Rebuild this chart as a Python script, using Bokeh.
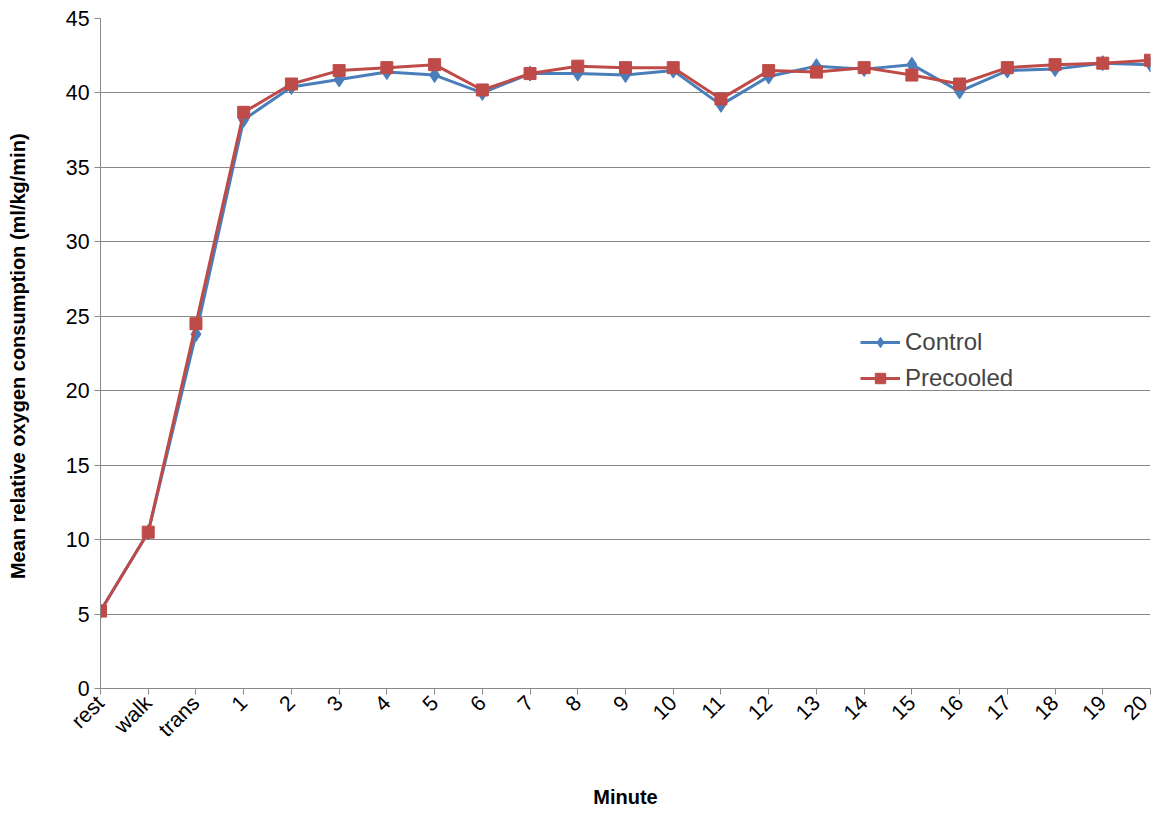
from bokeh.plotting import figure
from bokeh.embed import file_html
from bokeh.resources import INLINE
from bokeh.models import FixedTicker, Range1d, Legend, LegendItem
import math

labels = ["rest","walk","trans"] + [str(i) for i in range(1,21)]
control = [5.2,10.5,23.8,38.2,40.4,40.9,41.4,41.2,40.0,41.3,41.3,41.2,41.5,39.2,41.1,41.8,41.6,41.9,40.1,41.5,41.6,42.0,41.9]
precooled = [5.2,10.5,24.5,38.7,40.6,41.5,41.7,41.9,40.2,41.3,41.8,41.7,41.7,39.6,41.5,41.4,41.7,41.2,40.6,41.7,41.9,42.0,42.2]
xs = list(range(len(labels)))

p = figure(width=1152, height=810, output_backend="svg", toolbar_location=None,
           x_range=Range1d(0, len(labels)-1), y_range=Range1d(0, 45),
           min_border_left=100, min_border_top=18, min_border_right=2, min_border_bottom=121)
p.outline_line_color = None
p.xgrid.grid_line_color = None
p.ygrid.grid_line_color = "#888888"
p.yaxis.ticker = FixedTicker(ticks=list(range(0, 46, 5)))
p.xaxis.ticker = FixedTicker(ticks=xs)
p.xaxis.major_label_overrides = {i: l for i, l in enumerate(labels)}
p.xaxis.major_label_orientation = math.pi/4
for ax in (p.xaxis, p.yaxis):
    ax.major_label_text_font = "Liberation Sans"
    ax.major_label_text_font_size = "16pt"
    ax.major_label_text_color = "black"
    ax.axis_line_color = "#888888"
    ax.major_tick_line_color = "#888888"
    ax.minor_tick_line_color = None
    ax.major_tick_in = 0
    ax.major_tick_out = 6
    ax.axis_label_text_font = "Liberation Sans"
    ax.axis_label_text_font_style = "bold"
    ax.axis_label_text_font_size = "15pt"
    ax.axis_label_text_color = "black"
p.xaxis.axis_label = "Minute"
p.xaxis.axis_label_standoff = 33
p.yaxis.axis_label = "Mean relative oxygen consumption  (ml/kg/min)"
p.yaxis.axis_label_standoff = 34

c1 = p.line(xs, control, line_color="#4a7ebb", line_width=3)
c2 = p.scatter(xs, control, marker="diamond", size=15, fill_color="#4a7ebb", line_color="#4a7ebb")
r1 = p.line(xs, precooled, line_color="#be4b48", line_width=3)
r2 = p.scatter(xs, precooled, marker="square", size=12, fill_color="#be4b48", line_color="#be4b48")

leg = Legend(items=[LegendItem(label="Control", renderers=[c1, c2]),
                    LegendItem(label="Precooled", renderers=[r1, r2])],
             location=(760, 296), border_line_color=None, background_fill_alpha=0,
             label_text_font="Liberation Sans", label_text_font_size="18pt",
             glyph_width=40, glyph_height=26, spacing=8)
p.add_layout(leg)

open("out.html", "w").write(file_html(p, INLINE))
